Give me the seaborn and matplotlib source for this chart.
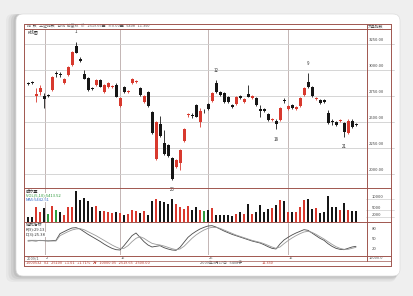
import numpy as np
import pandas as pd
import matplotlib
matplotlib.use("Agg")
import matplotlib.pyplot as plt
import seaborn as sns
from matplotlib.patches import FancyBboxPatch
from matplotlib.lines import Line2D

# ---------------- data ----------------
open_ = [2879, 2886, 2751, 2790, 2751, 2755, 2809, 2963, 2963, 2873,
         2953, 3049, 3235, 3103, 2959, 2921, 2825, 2857, 2905, 2793,
         2841, 2835, 2857, 2659, 2835, 2787, 2873, 2883, 2825, 2697,
         2787, 2601, 2143, 2483, 2297, 2281, 2159, 2073, 2111, 2323,
         2566, 2566, 2665, 2505, 2603, 2675, 2707, 2879, 2793, 2777,
         2745, 2665, 2675, 2751, 2697, 2771, 2735, 2729, 2630, 2623,
         2579, 2524, 2515, 2521, 2713, 2627, 2665, 2630, 2655, 2761,
         2883, 2835, 2719, 2713, 2710, 2585, 2505, 2505, 2511, 2495,
         2399, 2515, 2479]
high = [2889, 2895, 2825, 2857, 2777, 2771, 2943, 2995, 2985, 2924,
        3039, 3180, 3273, 3123, 2999, 2937, 2835, 2915, 2915, 2867,
        2889, 2860, 2873, 2745, 2847, 2809, 2921, 2905, 2835, 2761,
        2796, 2611, 2515, 2559, 2425, 2291, 2169, 2147, 2243, 2441,
        2591, 2585, 2675, 2633, 2623, 2684, 2793, 2905, 2803, 2787,
        2755, 2675, 2751, 2761, 2729, 2857, 2764, 2739, 2665, 2633,
        2588, 2543, 2527, 2643, 2729, 2665, 2675, 2659, 2745, 2835,
        2969, 2844, 2745, 2723, 2719, 2617, 2527, 2515, 2531, 2505,
        2527, 2527, 2489]
low = [2857, 2863, 2697, 2761, 2633, 2745, 2803, 2937, 2937, 2863,
       2943, 3039, 3161, 3081, 2911, 2803, 2806, 2847, 2835, 2783,
       2831, 2825, 2739, 2649, 2777, 2777, 2863, 2873, 2751, 2687,
       2649, 2387, 2137, 2361, 2185, 2169, 1945, 2063, 2041, 2313,
       2553, 2537, 2547, 2457, 2585, 2617, 2697, 2783, 2751, 2687,
       2687, 2633, 2665, 2719, 2687, 2739, 2726, 2655, 2553, 2601,
       2511, 2515, 2431, 2511, 2687, 2617, 2623, 2620, 2646, 2751,
       2825, 2742, 2710, 2671, 2687, 2483, 2473, 2463, 2502, 2361,
       2390, 2441, 2463]
close = [2867, 2873, 2771, 2831, 2719, 2755, 2937, 2963, 2953, 2915,
         3027, 3171, 3167, 3091, 2918, 2809, 2815, 2905, 2841, 2857,
         2879, 2851, 2745, 2729, 2787, 2803, 2911, 2895, 2758, 2751,
         2655, 2393, 2505, 2367, 2195, 2175, 1951, 2137, 2233, 2431,
         2575, 2556, 2553, 2611, 2603, 2627, 2783, 2793, 2761, 2697,
         2697, 2643, 2739, 2729, 2719, 2745, 2755, 2665, 2604, 2611,
         2521, 2534, 2479, 2633, 2703, 2655, 2633, 2649, 2735, 2825,
         2835, 2751, 2735, 2681, 2697, 2489, 2499, 2473, 2521, 2409,
         2511, 2457, 2473]
volume = [1850, 2150, 6470, 4470, 6010, 3390, 6930, 5390, 4160, 2930,
          6780, 6780, 13860, 9550, 10780, 9090, 6470, 7240, 4930, 4930,
          4470, 3850, 4160, 3850, 2930, 3390, 5390, 4620, 3850, 4930,
          2930, 9090, 10010, 9090, 8780, 7850, 10320, 8010, 6470, 5700,
          6930, 5390, 6470, 5390, 4930, 5390, 6010, 2930, 2930, 2930,
          2930, 2310, 3390, 4160, 3540, 8010, 3390, 4160, 7550, 4470,
          5700, 6010, 7550, 9550, 9240, 4160, 4470, 4470, 6470, 9550,
          10010, 5700, 6010, 3850, 4160, 11550, 6470, 6470, 5390, 8470,
          5390, 4930, 4930]
k_line = [44, 45, 44, 46, 45, 44, 45, 46, 66, 72,
          78, 83, 84, 80, 72, 64, 57, 50, 43, 35,
          28, 22, 18, 17, 30, 45, 60, 68, 55, 42,
          32, 26, 28, 30, 24, 20, 17, 16, 25, 40,
          55, 65, 73, 80, 85, 89, 90, 86, 80, 74,
          69, 64, 60, 56, 52, 48, 44, 41, 38, 33,
          27, 22, 20, 35, 47, 55, 62, 68, 73, 78,
          76, 68, 60, 52, 46, 36, 28, 22, 19, 18,
          22, 26, 28]
d_line = [46, 46, 46, 45, 45, 45, 44, 44, 60, 66,
          72, 77, 80, 81, 78, 72, 66, 60, 53, 46,
          39, 32, 26, 21, 22, 30, 42, 52, 57, 52,
          44, 37, 34, 32, 29, 25, 21, 18, 20, 28,
          40, 52, 62, 70, 77, 82, 85, 85, 82, 77,
          72, 67, 62, 58, 54, 50, 46, 43, 40, 36,
          31, 26, 22, 26, 36, 45, 53, 60, 66, 71,
          73, 70, 64, 57, 50, 42, 34, 27, 22, 19,
          19, 22, 25]
price_ticks = [3250, 3000, 2750, 2500, 2250, 2000]
price_tick_labels = ["3250.00", "3000.00", "2750.00", "2500.00", "2250.00", "2000.00"]
vol_ticks = [10000, 5000, 2000]
vol_tick_labels = ["10000", "5000", "2000"]
kd_ticks = [80, 50, 20]
kd_tick_labels = ["80", "50", "20"]
month_lines = [4.25, 23, 45, 65]          # candle index of the vertical separators
date_labels = ["2", "16", "26", "16"]
peak_marks = [(12, "1", "high"), (47, "12", "high"), (70, "9", "high"),
              (36, "23", "low"), (62, "18", "low"), (79, "21", "low")]

# ---------------- style ----------------
sns.set_theme(style="white")
plt.rcParams['font.family'] = ['Noto Sans CJK SC', 'DejaVu Sans']
plt.rcParams['axes.unicode_minus'] = False

W, H = 413, 296
fig = plt.figure(figsize=(W / 100, H / 100), dpi=100)
fig.patch.set_facecolor('#efefef')

def fx(x):
    return x / W

def fy(y):
    return 1 - y / H

# card with shadow
for i, a in enumerate([0.05, 0.07, 0.09, 0.12]):
    off = (4 - i) * 0.025
    fig.add_artist(FancyBboxPatch((0.16 - off, 0.20 - off * 0.6), 3.84 + off * 0.6, 2.62 + off * 0.6,
                                  boxstyle="round,pad=0,rounding_size=0.07",
                                  transform=fig.dpi_scale_trans, facecolor='#555555',
                                  edgecolor='none', alpha=a, zorder=-3))
fig.add_artist(FancyBboxPatch((0.16, 0.20), 3.84, 2.62,
                              boxstyle="round,pad=0,rounding_size=0.07",
                              transform=fig.dpi_scale_trans, facecolor='white',
                              edgecolor='#dddddd', linewidth=0.5, zorder=-2))

n = len(open_)
idx = np.arange(n)
red = '#d8392e'
black = '#161616'
green = '#2f9a3c'
colors = [red if c > o else black for o, c in zip(open_, close)]
vcolors = [red if c > o else (black if c < o else green) for o, c in zip(open_, close)]

L, R = 24, 366
xl = (-1, 84.5)

ax = fig.add_axes([fx(L), fy(187.5), fx(R - L), (187.5 - 29) / H])
axv = fig.add_axes([fx(L), fy(221.5), fx(R - L), (221.5 - 188) / H])
axk = fig.add_axes([fx(L), fy(255), fx(R - L), (255 - 222.5) / H])

for a in (ax, axv, axk):
    a.set_zorder(2)
    a.set_xlim(*xl)
    a.set_facecolor('none')
    a.set_xticks([])
    a.set_yticks([])
    for s in a.spines.values():
        s.set_visible(False)
    for m in month_lines:
        a.axvline(m, color='#b9aaa8', lw=0.6, zorder=1)

# ---- price panel ----
ax.set_ylim(1874, 3394)
for p in price_ticks:
    ax.axhline(p, color='#cfcfcf', lw=0.6, zorder=1)
ax.vlines(idx, low, high, colors=colors, lw=0.6, zorder=3)
bottoms = np.minimum(open_, close)
heights = np.maximum(np.abs(np.array(close) - np.array(open_)), 9)
ax.bar(idx, heights, bottom=bottoms, width=0.75, color=colors, linewidth=0, zorder=4)
for i, lab, kind in peak_marks:
    if kind == "high":
        ax.text(i, high[i] + 70, lab, fontsize=3.2, ha='center', va='bottom', color='#333333')
    else:
        ax.text(i, low[i] - 70, lab, fontsize=3.2, ha='center', va='top', color='#333333')
ax.text(0.01, 0.995, "K线图", transform=ax.transAxes, fontsize=3, va='top', ha='left', color='#333333')

# ---- volume panel ----
axv.set_ylim(0, 15200)
axv.bar(idx, volume, width=0.66, color=vcolors, linewidth=0, zorder=3)
tv = dict(transform=axv.transAxes, fontsize=3, va='top', ha='left', zorder=6,
          bbox=dict(facecolor='white', edgecolor='none', pad=0.2))
axv.text(0.005, 0.985, "成交量", color='#333333', **tv)
axv.text(0.005, 0.845, "VOL(5,10):5413.52", color=green, **tv)
axv.text(0.005, 0.705, "MA5:5442.51", color='#3b6fc9', **tv)

# ---- stochastic panel ----
axk.set_ylim(2, 99.5)
kd = pd.DataFrame({"idx": np.concatenate([idx, idx]),
                   "val": k_line + d_line,
                   "line": ["K"] * n + ["D"] * n})
sns.lineplot(data=kd, x="idx", y="val", hue="line", palette={"K": '#4a4a4a', "D": '#9a9a9a'},
             linewidth=0.6, legend=False, ax=axk, zorder=3)
axk.set_xlabel("")
axk.set_ylabel("")
axk.set_xticks([])
axk.set_yticks([])
tk = dict(transform=axk.transAxes, fontsize=3, va='top', ha='left', color='#333333', zorder=6,
          bbox=dict(facecolor='white', edgecolor='none', pad=0.2))
axk.text(0.005, 0.98, "随机指标", **tk)
axk.text(0.005, 0.84, "K(9):29.13", **tk)
axk.text(0.005, 0.70, "D(3):25.38", **tk)

# ---- right-hand scale column ----
for p, lab in zip(price_ticks, price_tick_labels):
    ax.plot([xl[1], xl[1] + 7], [p, p], color='#cfcfcf', lw=0.6, clip_on=False)
    ax.text(xl[1] + 0.6, p + 18, lab, fontsize=3, ha='left', va='bottom', color='#444444', clip_on=False)
for v, lab in zip(vol_ticks, vol_tick_labels):
    axv.plot([xl[1], xl[1] + 7], [v, v], color='#cfcfcf', lw=0.5, clip_on=False)
    axv.text(xl[1] + 1.5, v + 200, lab, fontsize=3, ha='left', va='bottom', color='#444444', clip_on=False)
for v, lab in zip(kd_ticks, kd_tick_labels):
    axk.text(xl[1] + 1.5, v, lab, fontsize=3, ha='left', va='center', color='#444444', clip_on=False)

# ---- frame lines ----
frame = '#a0564f'
def hline(y, x0=24, x1=391, c=frame, lw=0.7):
    fig.add_artist(Line2D([fx(x0), fx(x1)], [fy(y), fy(y)], color=c, lw=lw, zorder=5))
def vline(x, y0, y1, c=frame, lw=0.7):
    fig.add_artist(Line2D([fx(x), fx(x)], [fy(y0), fy(y1)], color=c, lw=lw, zorder=5))

hline(23.5)
hline(29)
hline(187.8)
hline(222)
hline(255.5)
hline(260.5, lw=0.5)
hline(266, lw=0.7)
vline(24, 23.5, 266)
vline(391, 23.5, 266)
vline(366.5, 23.5, 260.5)

# header row
fig.text(fx(27), fy(26.3), "指  数   上证指数   日线  前复权   价   2519.65量   ±0.00量   5408   11.350",
         fontsize=2.8, color='#555555', va='center', ha='left')
fig.text(fx(368), fy(26.3), "大盘指数", fontsize=2.8, color='#555555', va='center', ha='left')

# date row
fig.text(fx(27), fy(258), "2009/1", fontsize=2.8, color='#555555', va='center', ha='left')
for m, lab in zip(month_lines, date_labels):
    xp = L + (m - xl[0]) / (xl[1] - xl[0]) * (R - L)
    fig.text(fx(xp + 1), fy(258), lab, fontsize=2.8, color='#555555', va='center', ha='left')
fig.text(fx(369), fy(258), "10000.0", fontsize=2.8, color='#555555', va='center', ha='left')

# status row
fig.text(fx(26), fy(263.3), "1000532   02   25100   +1.01   +1.71%   万   10000.05   2519.65   2500.00",
         fontsize=2.8, color='#c0392b', va='center', ha='left')
fig.text(fx(200), fy(263.3), "2009年3月17日   5408手", fontsize=2.8, color='#555555', va='center', ha='left')
fig.text(fx(262), fy(263.3), "11.350", fontsize=2.8, color='#c0392b', va='center', ha='left')

fig.savefig("out.png", dpi=100, facecolor=fig.get_facecolor())
